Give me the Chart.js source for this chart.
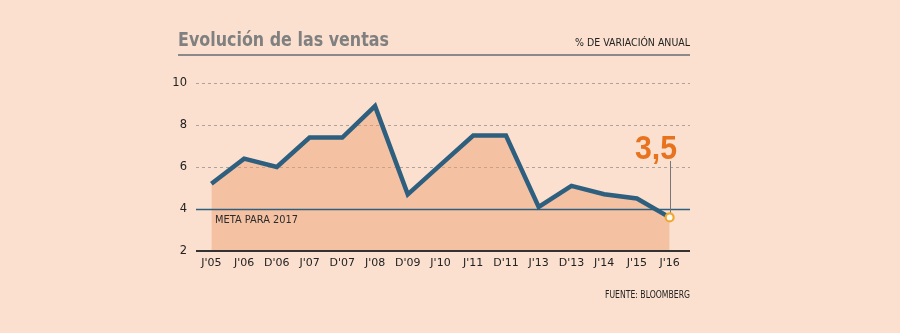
<!DOCTYPE html>
<html><head><meta charset="utf-8">
<script src="https://cdn.jsdelivr.net/npm/chart.js@4/dist/chart.umd.min.js"></script>
<style>html,body{margin:0;padding:0;background:#fbe0cf;}canvas{display:block;}</style>
</head><body>
<canvas id="c" width="900" height="333"></canvas>
<script>
const categories = ["J'05","J'06","D'06","J'07","D'07","J'08","D'09","J'10","J'11","D'11","J'13","D'13","J'14","J'15","J'16"];
const ventas = [5.2, 6.4, 6.0, 7.4, 7.4, 8.9, 4.7, 6.1, 7.5, 7.5, 4.1, 5.1, 4.7, 4.5, 3.6];
const yTicks = [2, 4, 6, 8, 10];
const gridValues = [6, 8, 10];
const meta = 4;
const metaLabel = "META PARA 2017";
const lastLabel = "3,5";
const title = "Evolución de las ventas";
const subtitle = "% DE VARIACIÓN ANUAL";
const source = "FUENTE: BLOOMBERG";

const FONT = "'DejaVu Sans', sans-serif";
const LEFT = 196, RIGHT = 690;

// draw text horizontally fitted to a given width, left anchored at x
function fitText(ctx, text, x, y, width) {
  const w = ctx.measureText(text).width;
  const sx = Math.min(1, width / w);
  ctx.save();
  ctx.translate(x, y); ctx.scale(sx, 1);
  ctx.textAlign = 'left';
  ctx.fillText(text, 0, 0);
  ctx.restore();
}

const background = {
  id: 'bgGrid',
  beforeDatasetsDraw(chart) {
    const {ctx, scales: {y}} = chart;
    ctx.save();
    ctx.strokeStyle = '#aca39c'; ctx.lineWidth = 1; ctx.setLineDash([3, 3]);
    gridValues.forEach(v => {
      const yy = Math.round(y.getPixelForValue(v)) + 0.5;
      ctx.beginPath(); ctx.moveTo(LEFT, yy); ctx.lineTo(RIGHT, yy); ctx.stroke();
    });
    ctx.restore();
  }
};

const overlay = {
  id: 'overlay',
  afterDatasetsDraw(chart) {
    const {ctx, scales: {x, y}} = chart;
    ctx.save();
    // meta line
    const ym = Math.round(y.getPixelForValue(meta)) + 0.5;
    ctx.strokeStyle = '#2f5f7e'; ctx.lineWidth = 1.5;
    ctx.beginPath(); ctx.moveTo(LEFT, ym); ctx.lineTo(RIGHT, ym); ctx.stroke();
    ctx.fillStyle = '#2b2b2b'; ctx.font = "11px " + FONT;
    ctx.textBaseline = 'alphabetic';
    fitText(ctx, metaLabel, 215, ym + 13, 83);
    // axis line
    const yb = Math.round(y.getPixelForValue(2));
    ctx.strokeStyle = '#333'; ctx.lineWidth = 2;
    ctx.beginPath(); ctx.moveTo(LEFT, yb); ctx.lineTo(RIGHT, yb); ctx.stroke();
    // annotation
    const li = ventas.length - 1;
    const px = x.getPixelForValue(li), py = y.getPixelForValue(ventas[li]);
    ctx.strokeStyle = '#777'; ctx.lineWidth = 1;
    ctx.beginPath(); ctx.moveTo(Math.round(px)+0.5, 161); ctx.lineTo(Math.round(px)+0.5, py - 4); ctx.stroke();
    ctx.fillStyle = '#e8731e'; ctx.font = "bold 33px 'Liberation Sans', sans-serif";
    fitText(ctx, lastLabel, 635, 159, 42);
    // point
    ctx.beginPath(); ctx.arc(px, py, 4, 0, Math.PI*2);
    ctx.fillStyle = '#fffaf2'; ctx.fill();
    ctx.strokeStyle = '#f0a832'; ctx.lineWidth = 2.2; ctx.stroke();
    // title
    ctx.fillStyle = '#808080'; ctx.font = "bold 19px " + FONT;
    fitText(ctx, title, 178, 46, 211);
    ctx.fillStyle = '#222'; ctx.font = "11px " + FONT;
    fitText(ctx, subtitle, 575, 46, 115);
    ctx.strokeStyle = '#8a8a8a'; ctx.lineWidth = 2;
    ctx.beginPath(); ctx.moveTo(178, 55); ctx.lineTo(RIGHT, 55); ctx.stroke();
    ctx.fillStyle = '#222'; ctx.font = "10px " + FONT;
    fitText(ctx, source, 605, 298, 85);
    ctx.restore();
  }
};

new Chart(document.getElementById('c'), {
  type: 'line',
  data: {
    labels: categories,
    datasets: [{
      data: ventas,
      borderColor: '#2f5f7e',
      borderWidth: 4.5,
      borderJoinStyle: 'miter',
      tension: 0,
      pointRadius: 0,
      fill: 'start',
      backgroundColor: 'rgba(235,160,115,0.47)'
    }]
  },
  options: {
    responsive: false,
    animation: false,
    layout: {padding: {top: 83, right: 214, left: 0, bottom: 0}},
    plugins: {legend: {display: false}, tooltip: {enabled: false}},
    scales: {
      x: {
        offset: true,
        grid: {display: false, drawTicks: false},
        border: {display: false},
        ticks: {color: '#222', font: {family: FONT, size: 11}, padding: 6, maxRotation: 0, autoSkip: false},
        afterFit(s) { s.height = 82; }
      },
      y: {
        min: 2, max: 10,
        afterBuildTicks(s) { s.ticks = yTicks.map(v => ({value: v})); },
        grid: {display: false, drawTicks: false},
        border: {display: false},
        ticks: {color: '#222', font: {family: FONT, size: 11.5}, padding: 8},
        afterFit(s) { s.width = 195; }
      }
    }
  },
  plugins: [background, overlay]
});
</script>
</body></html>
